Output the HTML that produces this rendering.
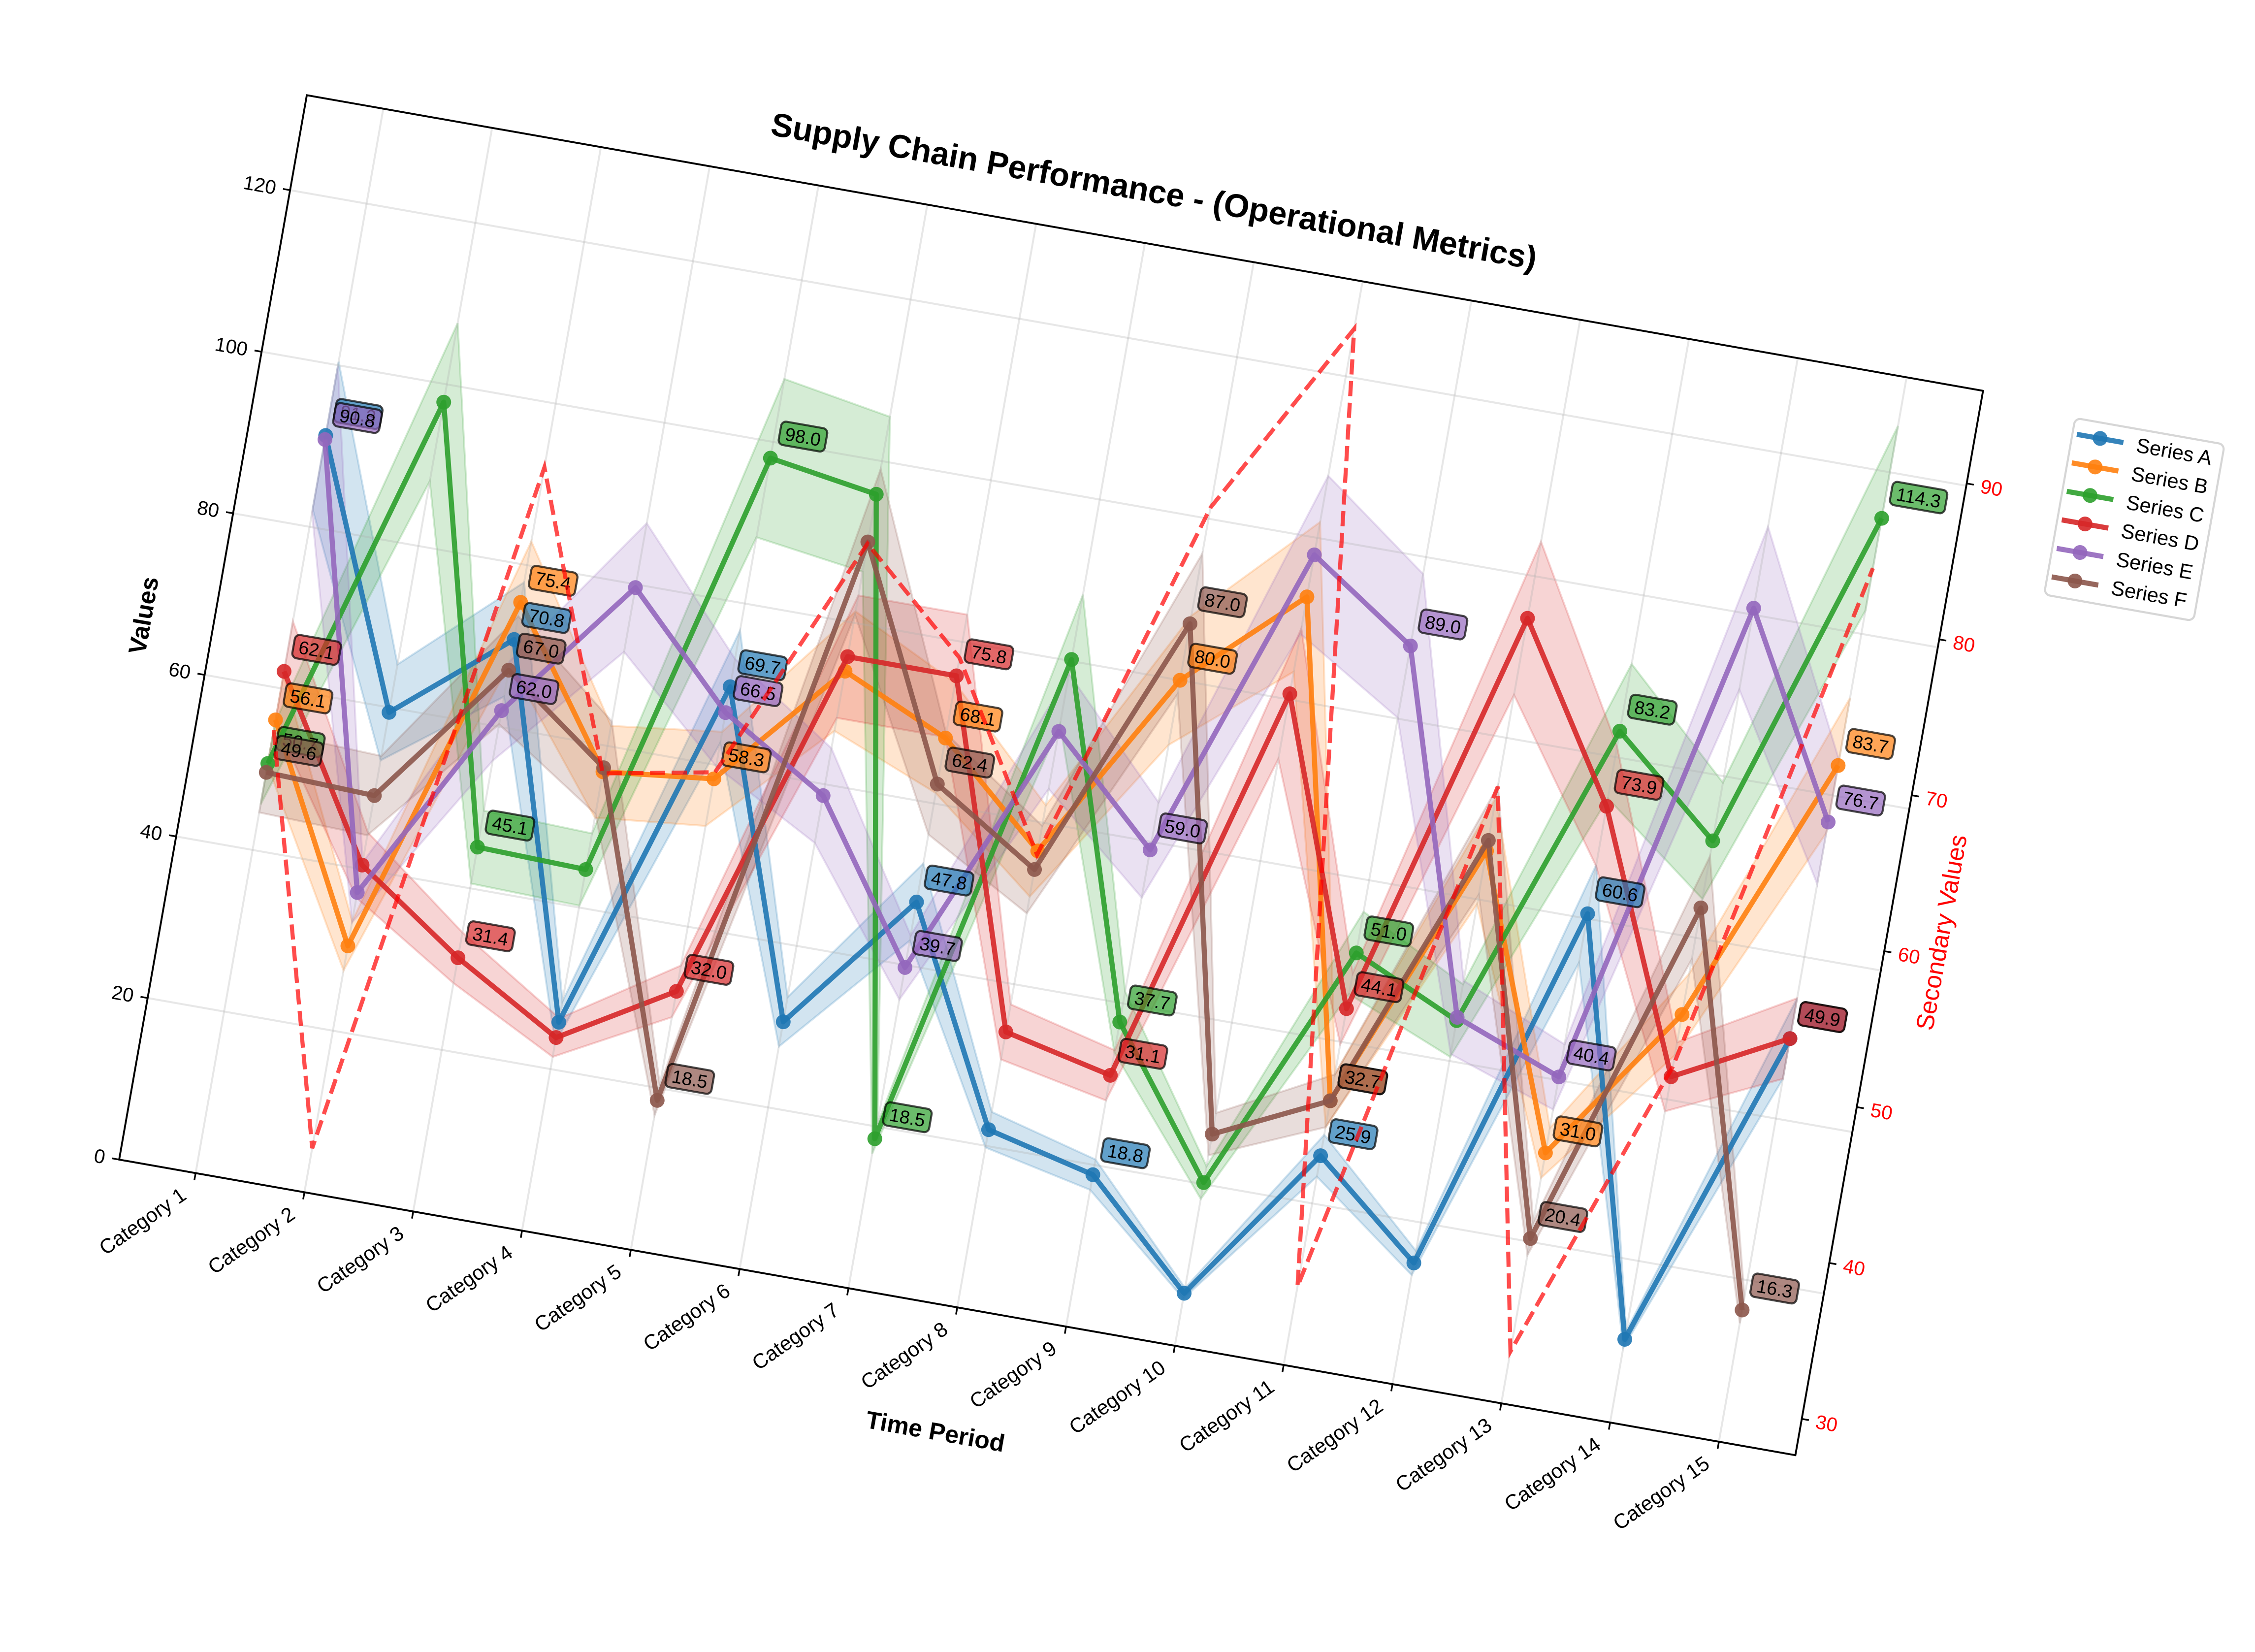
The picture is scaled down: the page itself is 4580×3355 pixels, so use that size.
<!DOCTYPE html>
<html lang="en">
<head>
<meta charset="utf-8">
<title>Supply Chain Performance - (Operational Metrics)</title>
<style>
html,body{margin:0;padding:0;background:#fff;}
svg{display:block;}
text{font-family:"Liberation Sans",sans-serif;}
</style>
</head>
<body>
<svg id="chart" xmlns="http://www.w3.org/2000/svg" width="4580" height="3355" viewBox="0 0 4580 3355">
<rect x="0" y="0" width="4580" height="3355" fill="#ffffff"/>
<g id="plot" transform="translate(242,2355) rotate(10)"></g>
</svg>
<script>
const categories = ["Category 1","Category 2","Category 3","Category 4","Category 5","Category 6","Category 7","Category 8","Category 9","Category 10","Category 11","Category 12","Category 13","Category 14","Category 15"];
const yTicks = [0,20,40,60,80,100,120];
const y2Ticks = [30,40,50,60,70,80,90];
const seriesNames = ["Series A","Series B","Series C","Series D","Series E","Series F"];
const seriesColors = ["#1f77b4","#ff7f0e","#2ca02c","#d62728","#9467bd","#8c564b"];
const seriesA = [91.3,59.4,70.8,25.8,69.7,30.6,47.8,22.0,18.8,6.5,25.9,15.0,60.6,10.3,49.9];
const seriesB = [56.1,30.5,75.4,56.8,58.3,74.0,68.1,56.5,80.0,92.7,32.7,66.0,31.0,50.5,83.7];
const seriesC = [50.7,97.8,45.1,44.7,98.0,95.9,18.5,80.2,37.7,20.2,51.0,45.0,83.2,72.0,114.3];
const seriesD = [62.1,40.5,31.4,23.9,32.0,75.8,75.8,34.1,31.1,80.7,44.1,94.8,73.9,42.8,49.9];
const seriesE = [90.8,37.1,62.0,79.6,66.5,58.6,39.7,71.3,59.0,97.9,89.0,45.4,40.4,100.8,76.7];
const seriesF = [49.6,49.1,67.0,57.3,18.5,90.0,62.4,54.2,87.0,26.2,32.7,67.3,20.4,63.7,16.3];
const secondaryValues = [56.1,30.5,75.4,57.0,58.3,74.2,68.1,56.7,80.2,92.9,32.7,66.0,31.0,50.5,83.7];
const allSeries = [seriesA,seriesB,seriesC,seriesD,seriesE,seriesF];

const AXW = 3457, AXH = 2195;
const NS = "http://www.w3.org/2000/svg";
const plot = document.getElementById("plot");

function xScale(i){ return 157.7 + 224.4 * i; }
function yScale(v){ return -v * 16.66; }
function y2Scale(v){ return -(v - 27.67) * 32.15; }

function make(tag, attrs, parent){
  const el = document.createElementNS(NS, tag);
  for (const k in attrs) el.setAttribute(k, attrs[k]);
  (parent || plot).appendChild(el);
  return el;
}

/* bands */
allSeries.forEach(function(vals, s){
  const top = vals.map(function(v,i){ return xScale(i)+","+yScale(v*1.1); });
  const bot = vals.map(function(v,i){ return xScale(i)+","+yScale(v*0.9); }).reverse();
  const band = make("polygon",{points:top.concat(bot).join(" "),fill:seriesColors[s],"fill-opacity":0.2,stroke:seriesColors[s],"stroke-opacity":0.2,"stroke-width":4});
  
  
});

/* grid */
categories.forEach(function(c,i){
  const g = make("line",{x1:xScale(i),x2:xScale(i),y1:0,y2:-AXH,stroke:"#b0b0b0","stroke-opacity":0.3,"stroke-width":4});
  
  
});
yTicks.forEach(function(t){
  const g = make("line",{x1:0,x2:AXW,y1:yScale(t),y2:yScale(t),stroke:"#b0b0b0","stroke-opacity":0.3,"stroke-width":4});
  
  
});

/* lines and markers */
allSeries.forEach(function(vals, s){
  const pts = vals.map(function(v,i){ return xScale(i)+","+yScale(v); }).join(" ");
  const line = make("polyline",{points:pts,fill:"none",stroke:seriesColors[s],"stroke-opacity":0.9,"stroke-width":10.4,"stroke-linejoin":"round"});
  
  
  vals.forEach(function(v,i){
    const c = make("circle",{cx:xScale(i),cy:yScale(v),r:15,fill:seriesColors[s],"fill-opacity":0.9});
    
    
  });
});

/* spines */
const frame = make("rect",{x:0,y:-AXH,width:AXW,height:AXH,fill:"none",stroke:"#000","stroke-width":3.8});



/* value labels */
allSeries.forEach(function(vals, s){
  vals.forEach(function(v,i){
    if (i % 2 !== 0) return;
    const g = make("g",{});
    
    
    const r = make("rect",{fill:seriesColors[s],"fill-opacity":0.7,stroke:"#000","stroke-opacity":0.7,"stroke-width":4.2,rx:10,ry:10},g);
    const t = make("text",{x:xScale(i)+21,y:yScale(v)-41,"font-size":37.5,fill:"#000"},g);
    t.textContent = v.toFixed(1);
    const w = t.getComputedTextLength();
    r.setAttribute("x", xScale(i)+21-11);
    r.setAttribute("y", yScale(v)-54.5-24);
    r.setAttribute("width", w+22);
    r.setAttribute("height", 48);
  });
});

/* x axis */
categories.forEach(function(c,i){
  const tick = make("line",{x1:xScale(i),x2:xScale(i),y1:0,y2:14.6,stroke:"#000","stroke-width":3.4});
  
  
  const t = make("text",{transform:"translate("+(xScale(i)-7)+",53) rotate(-45)","text-anchor":"end","font-size":41.67,fill:"#000"});
  t.textContent = c;
  
  
});

/* left y axis */
yTicks.forEach(function(v){
  const tick = make("line",{x1:-14.6,x2:0,y1:yScale(v),y2:yScale(v),stroke:"#000","stroke-width":3.4});
  
  
  const t = make("text",{x:-29,y:yScale(v)+14,"text-anchor":"end","font-size":40,fill:"#000"});
  t.textContent = String(v);
  
  
});

/* secondary dashed line */
const dashed = make("polyline",{points:secondaryValues.map(function(v,i){ return xScale(i)+","+y2Scale(v); }).join(" "),fill:"none",stroke:"#ff0000","stroke-opacity":0.7,"stroke-width":8.3,"stroke-dasharray":"30.8 13.3"});



/* right y axis */
y2Ticks.forEach(function(v){
  const tick = make("line",{x1:AXW,x2:AXW+14.6,y1:y2Scale(v),y2:y2Scale(v),stroke:"#000","stroke-width":3.4});
  
  
  const t = make("text",{x:AXW+29,y:y2Scale(v)+14,"font-size":40,fill:"#ff0000"});
  t.textContent = String(v);
  
  
});

/* titles */
const title = make("text",{x:AXW/2,y:-2279,"text-anchor":"middle","font-size":66.67,"font-weight":"bold",fill:"#000"});
title.textContent = "Supply Chain Performance - (Operational Metrics)";



const xTitle = make("text",{x:AXW/2,y:273,"text-anchor":"middle","font-size":50,"font-weight":"bold",fill:"#000"});
xTitle.textContent = "Time Period";



const yTitle = make("text",{transform:"translate(-126,-1097) rotate(-90)","text-anchor":"middle","font-size":50,"font-weight":"bold",fill:"#000"});
yTitle.textContent = "Values";



const y2Title = make("text",{transform:"translate(3582,-1097) rotate(-90)","text-anchor":"middle","font-size":50,fill:"#ff0000"});
y2Title.textContent = "Secondary Values";



/* legend */
const legend = make("g",{});


const legendBox = make("rect",{x:3651,y:-2173,width:308,height:364,rx:12,ry:12,fill:"#ffffff","fill-opacity":0.8,stroke:"#cccccc","stroke-opacity":0.8,"stroke-width":4.2},legend);


seriesNames.forEach(function(name,s){
  const rowY = -2141 + 58.8*s;
  const entry = make("g",{},legend);
  
  
  make("line",{x1:3660,x2:3756,y1:rowY,y2:rowY,stroke:seriesColors[s],"stroke-opacity":0.9,"stroke-width":10.4},entry);
  make("circle",{cx:3708,cy:rowY,r:15,fill:seriesColors[s],"fill-opacity":0.9},entry);
  const t = make("text",{x:3783,y:rowY+14.5,"font-size":41.67,fill:"#000"},entry);
  t.textContent = name;
});
</script>
</body>
</html>
